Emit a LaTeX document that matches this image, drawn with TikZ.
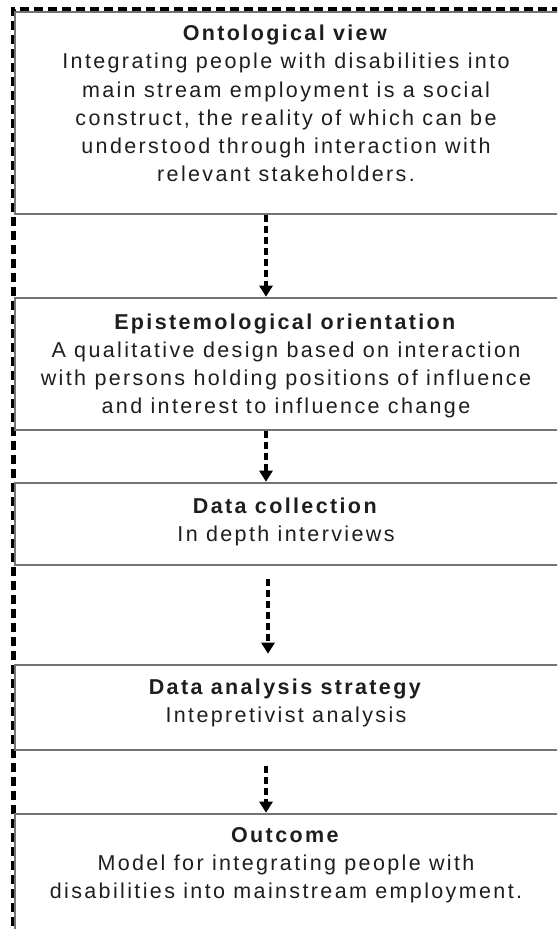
\documentclass[tikz,border=0pt]{standalone}
\usepackage{fontspec}
\usetikzlibrary{arrows.meta}
\newfontfamily\boxfont[LetterSpace=11]{Liberation Sans}
\definecolor{boxline}{RGB}{115,115,115}
\definecolor{inktext}{RGB}{30,30,30}
\tikzset{
  stagebox/.style={draw=boxline, line width=2.6pt, fill=white, rectangle, inner sep=0pt},
  stagetext/.style={align=center, text=inktext, inner sep=0pt,
    font=\boxfont\fontsize{21.5}{28.2}\selectfont},
  flow/.style={draw=black, line width=3.4pt, dash pattern=on 7pt off 4pt,
    -{Triangle[width=13pt,length=11pt]}},
  frameline/.style={draw=black, line width=5pt, dash pattern=on 9pt off 5pt}
}
\begin{document}
\begin{tikzpicture}[x=1pt,y=-1pt]
\useasboundingbox (0,0) rectangle (557,929);
\clip (0,0) rectangle (557,929);
% outer dashed frame (left and top edges)
\coordinate (fr) at (13,9);
\draw[frameline] (13,940) -- (fr) -- (570,9);
% stage boxes
\node[stagebox, minimum width=547pt, minimum height=202pt] (b1) at (288.5,113) {};
\node[stagebox, minimum width=547pt, minimum height=132pt] (b2) at (288.5,364) {};
\node[stagebox, minimum width=547pt, minimum height=82pt] (b3) at (288.5,524) {};
\node[stagebox, minimum width=547pt, minimum height=85pt] (b4) at (288.5,707.5) {};
\node[stagebox, minimum width=547pt, minimum height=121pt] (b5) at (288.5,874.5) {};
% texts
\node[stagetext] (t1) at (286,103.5) {\textbf{Ontological view}\\
  Integrating people with disabilities into\\
  main stream employment is a social\\
  construct, the reality of which can be\\
  understood through interaction with\\
  relevant stakeholders.};
\node[stagetext] (t2) at (286,366) {\textbf{Epistemological orientation}\\
  A qualitative design based on interaction\\
  with persons holding positions of influence\\
  and interest to influence change};
\node[stagetext] (t3) at (286,522) {\textbf{Data collection}\\In depth interviews};
\node[stagetext] (t4) at (286,703) {\textbf{Data analysis strategy}\\Intepretivist analysis};
\node[stagetext] (t5) at (286,865) {\textbf{Outcome}\\
  Model for integrating people with\\
  disabilities into mainstream employment.};
% connectors
\coordinate (ax) at (266,0);
\coordinate (bx) at (268,0);
\draw[flow] (b1.south -| ax) -- (b2.north -| ax);
\draw[flow] (b2.south -| ax) -- (b3.north -| ax);
\draw[flow, shorten <=13pt, shorten >=10pt] (b3.south -| bx) -- (b4.north -| bx);
\draw[flow, shorten <=15pt] (b4.south -| ax) -- (b5.north -| ax);
\end{tikzpicture}
\end{document}
